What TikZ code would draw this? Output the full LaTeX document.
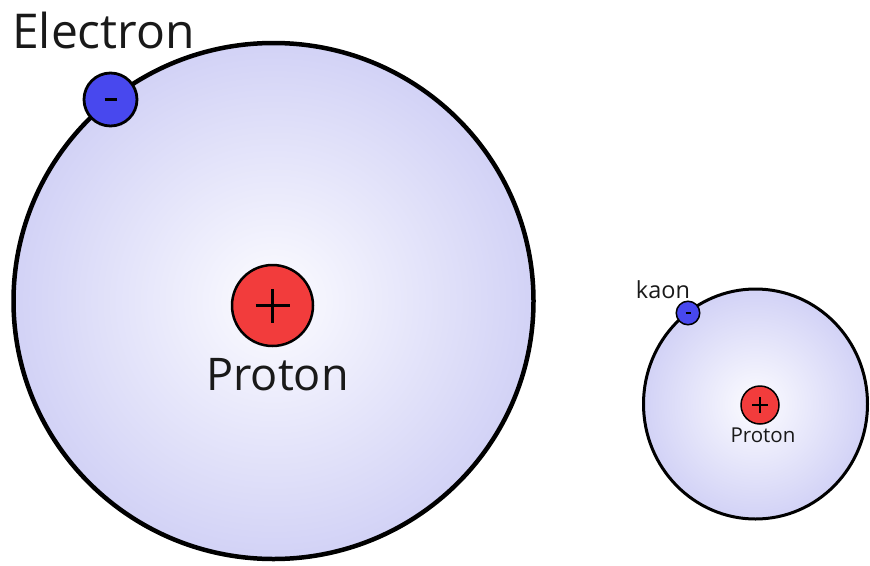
\documentclass[tikz,border=0pt]{standalone}
\usepackage{fontspec}
\setmainfont{Open Sans}
\definecolor{orbitedge}{HTML}{D2D2F6}
\definecolor{orbitin}{HTML}{FCFCFF}
\definecolor{eblue}{HTML}{4848EE}
\definecolor{pred}{HTML}{F23C3C}
\tikzset{
  orbit/.style={draw=black, inner color=orbitin, outer color=orbitedge},
  electronball/.style={circle, draw=black, fill=eblue, inner sep=0pt},
  protonball/.style={circle, draw=black, fill=pred, inner sep=0pt},
  lbl/.style={anchor=base, inner sep=0pt, text=black!90}
}
\begin{document}
\begin{tikzpicture}[x=1pt,y=-1pt]
\useasboundingbox (0,0) rectangle (870,565);
% big atom
\shade[orbit, line width=4.5pt] (273.5,301) ellipse [x radius=260, y radius=258];
\node[protonball, minimum size=81pt, line width=2.5pt] (p1) at (272.5,305.5) {};
\draw[line width=2.5pt] ([xshift=-17pt]p1.center) -- ([xshift=17pt]p1.center)
      ([yshift=-17pt]p1.center) -- ([yshift=17pt]p1.center);
\node[lbl, font=\fontsize{45}{50}\selectfont] (plab1) at (277.5,390) {Proton};
\node[electronball, minimum size=53pt, line width=2.8pt] (e1) at (110.5,99.5) {};
\draw[line width=3pt] ([xshift=-6pt]e1.center) -- ([xshift=6pt]e1.center);
\node[lbl, font=\fontsize{48}{52}\selectfont] (elab) at (103.5,48) {Electron};
% small atom
\shade[orbit, line width=3pt] (755.5,404) ellipse [x radius=112, y radius=115];
\node[protonball, minimum size=38pt, line width=1.5pt] (p2) at (760,405) {};
\draw[line width=1.3pt] ([xshift=-8pt]p2.center) -- ([xshift=8pt]p2.center)
      ([yshift=-8pt]p2.center) -- ([yshift=8pt]p2.center);
\node[lbl, font=\fontsize{20.5}{24}\selectfont] (plab2) at (763,442) {Proton};
\node[electronball, minimum size=23.5pt, line width=1.5pt] (e2) at (688,313) {};
\draw[line width=1.4pt] ([xshift=-2.5pt]e2.center) -- ([xshift=2.5pt]e2.center);
\node[lbl, font=\fontsize{23.5}{27}\selectfont] (klab) at (663,298) {kaon};
\end{tikzpicture}
\end{document}
